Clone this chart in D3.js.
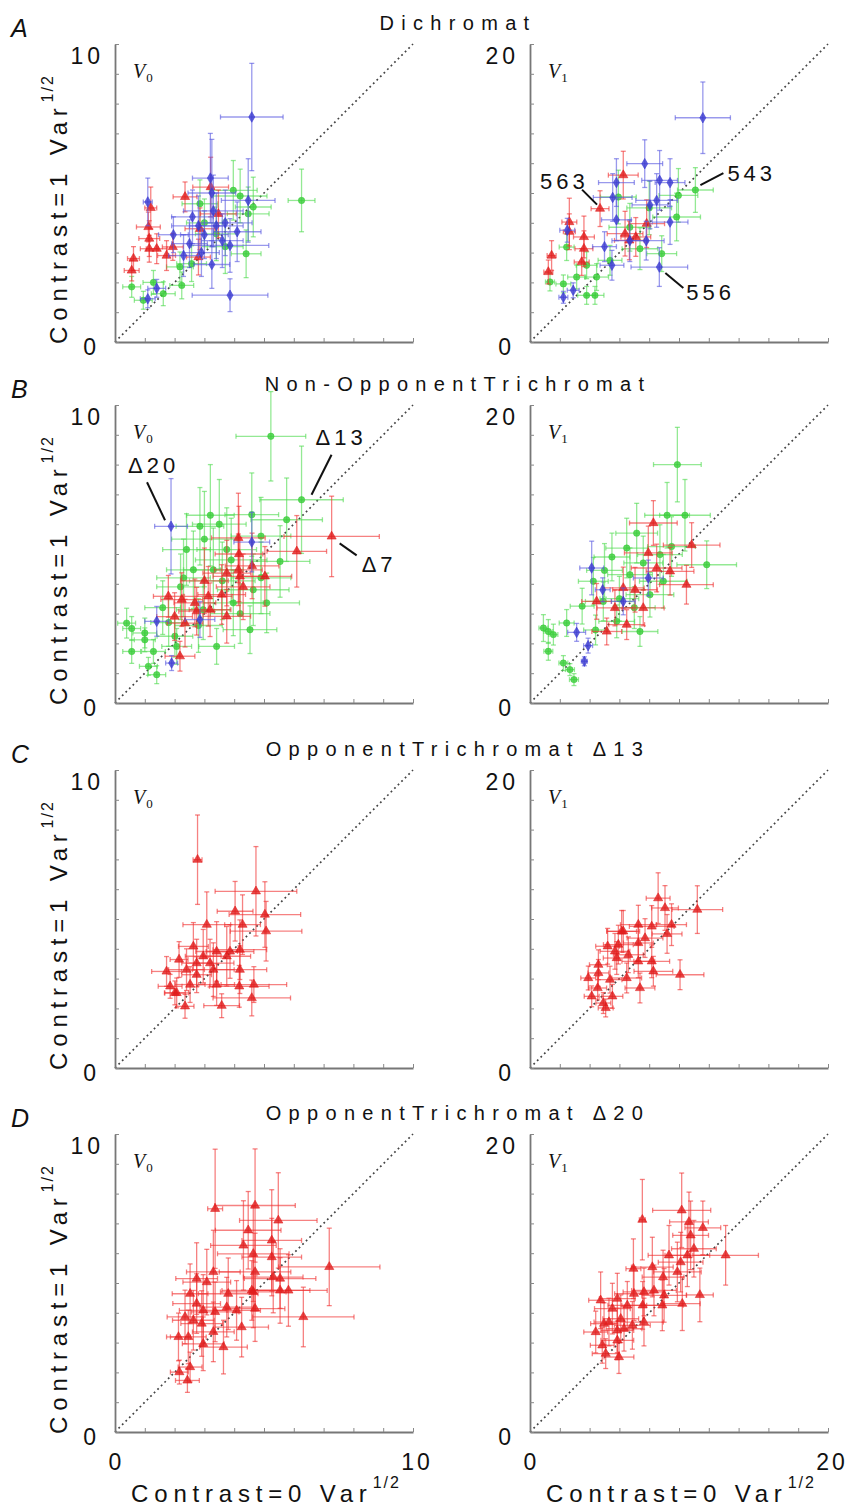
<!DOCTYPE html>
<html>
<head>
<meta charset="utf-8">
<script src="https://cdn.jsdelivr.net/npm/d3@7"></script>
<style>
body { margin:0; background:#fff; }
svg text { font-family: "Liberation Sans", Arial, Helvetica, sans-serif; fill:#111; }
</style>
</head>
<body>
<svg id="fig" width="863" height="1508"></svg>
<script>
// each point: [x, y, xerr, yerr]
var dichV0Red = [[0.62,2.8,0.2,0.4],[0.56,2.4,0.25,0.35],[1.12,3.86,0.4,0.5],[1.15,3.47,0.35,0.6],[1.15,3.13,0.3,0.45],
  [1.4,3.13,0.35,0.5],[1.73,2.9,0.3,0.5],[1.94,3.19,0.35,0.45],[2.35,4.87,0.4,0.5],[2.85,3.8,0.5,0.7],
  [3.21,5.2,0.6,1.0],[3.47,4.3,0.6,0.8],[2.8,2.85,0.4,0.6],[1.2,4.5,0.2,0.7]];
var dichV0Green = [[6.26,4.75,0.45,1.05],[0.56,1.85,0.3,0.35],[1.62,1.62,0.4,0.4],[1.29,2.0,0.35,0.4],[2.18,2.52,0.45,0.5],
  [2.24,1.9,0.4,0.45],[2.57,2.63,0.5,0.6],[2.85,4.64,0.6,0.8],[3.97,5.09,0.8,1.0],[4.47,4.3,0.7,0.9],
  [4.64,4.53,0.6,1.0],[4.4,2.96,0.5,0.8],[3.4,3.63,0.7,0.9],[0.95,1.4,0.3,0.3],[3.0,4.0,0.6,0.8],
  [3.7,3.2,0.6,0.9],[4.2,4.9,0.9,0.9]];
var dichV0Blue = [[4.59,7.55,1.05,1.8],[3.86,1.57,1.27,0.55],[1.1,4.7,0.15,0.8],[3.2,5.5,0.6,1.5],[4.47,4.75,0.9,1.4],
  [3.86,3.24,1.3,0.9],[1.4,1.8,0.3,0.3],[1.1,1.45,0.25,0.3],[1.96,3.6,0.5,0.6],[2.6,4.2,0.7,0.9],
  [3.0,3.6,0.8,0.8],[3.4,3.9,0.9,1.1],[3.6,3.4,0.7,0.9],[2.9,3.0,0.6,0.8],[4.1,3.7,0.8,1.0],
  [3.3,4.4,1.0,1.2],[2.5,3.3,0.6,0.8],[2.8,3.9,0.9,1.0],[3.7,4.0,0.9,1.1],[2.3,2.9,0.5,0.7],
  [3.25,2.6,0.6,0.8],[3.25,5.0,0.8,1.8]];

var dichV1Red = [[6.26,11.2,1.0,1.6],[4.7,8.95,0.6,1.2],[2.64,8.05,0.5,1.6],[2.64,7.4,0.4,1.2],[1.45,5.8,0.3,1.0],
  [1.23,4.7,0.3,0.8],[3.62,7.05,0.7,1.4],[3.62,6.26,0.6,1.2],[3.47,5.37,0.5,0.9],[6.38,7.27,1.2,1.5],
  [6.67,6.82,1.0,1.3],[7.83,7.94,1.2,1.6],[7.1,7.05,1.0,1.3]];
var dichV1Green = [[11.1,10.2,1.2,1.5],[1.34,4.03,0.3,0.6],[2.24,3.9,0.5,0.6],[3.13,4.36,0.6,0.8],[4.36,3.13,0.6,0.6],
  [3.8,3.13,0.6,0.6],[5.37,5.48,0.8,1.0],[3.8,5.15,0.7,0.9],[5.93,9.73,1.2,1.8],[8.84,5.93,1.0,1.2],
  [9.84,8.39,1.6,1.6],[9.96,9.84,1.3,1.8],[7.38,6.26,1.2,1.4],[6.7,7.7,1.4,1.6],[2.46,6.37,0.5,0.9],
  [4.47,4.36,0.8,0.9],[8.0,9.0,1.5,1.8]];
var dichV1Blue = [[11.6,15.05,1.85,2.4],[8.68,5.03,1.9,1.3],[7.7,11.97,1.2,1.6],[5.8,10.7,1.2,1.6],[5.55,9.7,1.3,1.6],
  [8.7,10.85,1.2,2.0],[9.4,10.7,1.0,1.6],[5.8,8.2,1.0,1.4],[9.4,8.05,1.2,1.5],[7.8,6.8,1.2,1.3],
  [5.5,5.15,0.8,1.0],[2.24,3.0,0.3,0.4],[2.9,3.47,0.4,0.5],[5.0,6.4,0.8,1.0],[6.7,6.8,1.2,1.4],
  [8.5,9.5,1.4,1.8],[8.05,9.2,1.2,1.6],[2.5,7.5,0.5,0.8]];

var nonoppV0Red = [[7.27,5.59,1.6,1.35],[6.1,5.09,1.0,1.2],[4.14,5.54,0.9,1.5],[4.14,4.47,0.8,1.2],[4.19,4.25,0.9,1.3],
  [3.75,4.36,0.8,1.1],[5.03,4.25,0.9,1.0],[2.18,1.57,0.5,0.5],[1.79,3.58,0.5,0.7],[2.24,3.47,0.7,0.9],
  [2.68,3.36,0.7,0.8],[3.13,3.58,0.8,1.0],[3.58,3.64,0.8,1.0],[2.74,3.08,0.6,0.8],[3.19,3.13,0.7,0.9],
  [3.75,2.91,0.8,0.9],[2.35,2.68,0.6,0.8],[4.16,5.0,0.8,1.6],[4.3,3.9,0.9,1.1],[3.0,4.1,0.8,1.1],
  [2.0,2.9,0.6,0.8],[4.6,4.6,0.9,1.1]];
var nonoppV0Green = [[5.23,8.95,1.17,1.5],[6.26,6.82,1.4,1.8],[5.76,6.15,1.2,1.4],[4.59,6.32,0.9,1.4],[2.85,5.93,0.8,1.3],
  [0.39,2.68,0.3,0.5],[0.56,2.5,0.3,0.4],[1.0,2.35,0.4,0.5],[1.0,2.12,0.35,0.4],[0.56,1.73,0.3,0.4],
  [1.29,1.73,0.4,0.4],[1.12,1.23,0.3,0.3],[1.4,0.95,0.3,0.3],[2.07,1.9,0.5,0.6],[3.41,1.9,0.6,0.6],
  [5.54,4.75,1.0,1.2],[3.3,4.47,1.0,1.4],[2.63,4.47,0.9,1.3],[4.64,3.8,1.2,1.2],[2.96,3.13,0.9,1.0],
  [3.97,3.36,1.0,1.1],[2.4,5.15,0.8,1.2],[3.75,5.15,1.0,1.4],[5.09,3.36,1.1,1.0],[4.53,2.46,0.9,0.8],
  [2.01,2.24,0.6,0.7],[3.5,6.0,0.9,1.5],[4.9,5.6,1.0,1.3],[2.2,3.9,0.8,1.1],[2.3,4.2,0.9,1.3],
  [3.0,5.5,1.1,1.6],[3.9,4.8,1.2,1.4],[4.2,3.0,1.0,1.0],[1.6,3.2,0.6,0.9],[2.8,2.6,0.8,0.9],
  [3.6,4.1,1.1,1.3],[4.9,4.2,1.0,1.2],[1.8,2.7,0.6,0.8],[3.2,6.3,0.8,1.7]];
var nonoppV0Blue = [[1.88,5.93,0.55,1.6],[1.4,2.74,0.4,0.5],[1.9,1.34,0.2,0.25],[2.85,2.8,0.5,0.6],[4.59,5.4,0.6,1.0]];

var nonoppV1Red = [[8.28,12.08,1.6,1.5],[10.85,10.6,1.9,1.5],[10.5,7.94,1.8,1.3],[8.5,9.06,1.7,1.6],[7.94,10.07,1.6,1.8],
  [6.26,7.72,1.4,1.4],[7.05,7.6,1.5,1.5],[4.47,6.82,1.0,1.2],[5.7,6.38,1.2,1.2],[6.49,5.26,1.2,1.0],
  [5.15,4.8,1.0,0.9],[7.6,6.38,1.4,1.2],[9.4,8.84,1.6,1.6]];
var nonoppV1Green = [[9.89,16.0,1.6,2.5],[9.2,12.6,1.5,2.2],[10.4,12.6,1.7,2.4],[7.16,11.4,1.4,2.0],[11.86,9.28,2.0,1.6],
  [0.9,5.03,0.3,0.9],[1.23,4.8,0.3,0.8],[1.57,4.59,0.3,0.7],[1.23,3.47,0.3,0.6],[2.24,2.68,0.3,0.5],
  [2.68,2.24,0.3,0.4],[2.95,1.57,0.3,0.4],[2.46,5.37,0.5,0.9],[4.25,8.17,1.0,1.6],[6.49,10.4,1.4,2.0],
  [7.38,4.8,1.2,1.0],[8.95,8.17,1.6,1.8],[5.82,5.48,1.2,1.1],[8.05,7.27,1.6,1.5],[4.92,6.82,1.2,1.3],
  [8.72,9.96,1.5,2.0],[6.71,8.61,1.5,1.8],[4.4,4.9,0.8,1.0],[7.6,9.4,1.3,1.8],[5.5,9.8,1.2,1.6],
  [5.0,8.9,1.2,1.8],[6.0,7.0,1.3,1.5],[7.0,6.4,1.4,1.4],[9.5,10.5,1.6,2.0],[3.5,6.5,0.8,1.2]];
var nonoppV1Blue = [[4.14,9.06,0.8,1.8],[4.88,7.6,0.5,0.8],[3.13,4.74,0.6,0.6],[3.9,3.85,0.3,0.5],[3.65,2.8,0.2,0.3],
  [6.26,6.82,0.8,0.9],[7.94,8.39,1.0,1.2]];

var opp13V0Red = [[2.77,6.99,0.15,1.5],[4.73,5.93,1.37,1.5],[4.03,5.26,0.6,1.0],[5.03,5.15,1.2,1.1],[5.07,4.59,1.2,1.0],
  [3.08,4.81,0.8,1.1],[4.28,4.81,0.6,1.0],[2.63,4.08,0.5,0.8],[3.41,3.91,0.7,1.0],[3.86,3.91,0.8,0.9],
  [4.19,3.97,0.9,1.0],[2.15,3.64,0.3,0.6],[1.73,3.24,0.5,0.5],[2.4,3.3,0.6,0.7],[2.74,3.13,0.5,0.6],
  [3.19,3.52,0.8,0.8],[4.19,3.3,0.9,0.8],[1.85,2.74,0.4,0.4],[2.01,2.52,0.35,0.4],[2.35,2.07,0.3,0.4],
  [2.52,2.8,0.5,0.6],[3.41,2.8,0.6,0.7],[4.17,2.74,1.0,0.7],[4.66,2.8,1.1,0.6],[3.58,2.09,0.6,0.4],
  [4.59,2.35,1.3,0.6],[2.74,3.52,0.5,0.8],[2.96,3.75,0.6,0.9],[3.75,3.75,0.8,1.0],[2.07,2.52,0.4,0.5],
  [3.3,3.3,0.7,0.9]];
var opp13V1Red = [[11.23,10.63,1.7,1.6],[10.07,6.26,1.6,1.0],[8.6,11.4,0.8,1.7],[9.06,10.74,0.9,1.5],[9.5,9.62,1.0,1.4],
  [9.2,9.0,1.0,1.3],[8.17,9.5,1.5,1.4],[7.27,9.62,1.2,1.3],[6.15,9.17,1.0,1.4],[7.72,8.72,1.2,1.3],
  [7.27,8.39,1.0,1.2],[5.21,8.17,0.8,1.2],[5.7,7.83,1.0,1.2],[5.82,7.38,0.9,1.1],[6.6,7.6,1.0,1.2],
  [7.27,7.16,1.1,1.1],[8.17,7.16,1.2,1.1],[8.28,6.49,1.3,1.0],[4.59,6.93,0.6,1.0],[4.59,6.38,0.7,0.9],
  [3.91,6.04,0.5,0.8],[5.37,5.93,0.8,0.9],[6.49,6.04,1.0,1.0],[7.38,5.37,1.0,1.0],[4.54,5.37,0.6,0.8],
  [4.14,4.81,0.5,0.7],[5.53,4.81,0.7,0.8],[4.92,4.36,0.5,0.7],[5.08,4.03,0.5,0.6],[5.93,8.28,1.0,1.3],
  [6.26,9.17,1.1,1.4]];

var opp20V0Red = [[7.19,5.54,1.7,1.3],[6.32,3.86,1.7,1.0],[4.7,7.6,1.35,1.9],[3.36,7.49,0.25,2.0],[5.48,7.1,1.3,1.6],
  [4.47,6.77,1.1,1.3],[5.26,6.43,1.0,1.7],[4.31,6.26,1.1,1.5],[4.64,5.98,1.2,1.6],[5.26,5.87,1.0,1.3],
  [4.7,5.37,1.2,1.3],[5.31,5.2,1.0,1.2],[5.54,5.15,1.2,1.0],[5.82,4.75,1.3,1.2],[5.54,4.75,1.0,1.1],
  [4.64,4.7,1.1,1.2],[2.74,5.15,0.7,1.2],[3.3,5.37,0.9,1.4],[3.08,5.03,0.8,1.1],[2.52,4.64,0.6,1.0],
  [3.8,4.64,1.0,1.2],[2.35,3.86,0.6,0.9],[2.96,4.08,0.8,1.2],[3.36,4.03,0.8,1.0],[2.63,3.75,0.7,1.0],
  [2.91,3.64,0.7,1.1],[3.75,4.19,0.9,1.0],[4.08,4.08,0.8,1.0],[4.25,3.52,0.9,1.0],[2.13,3.19,0.4,0.8],
  [2.46,3.19,0.6,0.9],[2.96,2.96,0.7,0.9],[3.64,2.85,0.8,0.9],[3.3,3.36,0.7,1.0],[2.52,2.18,0.4,0.5],
  [2.16,2.01,0.3,0.4],[2.43,1.73,0.4,0.4],[4.7,4.14,1.0,1.1],[2.74,4.31,0.8,1.0],[4.59,4.75,1.0,1.0]];
var opp20V1Red = [[13.13,11.86,2.2,2.0],[11.4,9.2,0.9,1.8],[10.18,14.88,1.95,2.5],[7.54,14.25,0.2,2.7],[11.6,13.7,1.2,1.8],
  [10.67,14.1,1.3,2.0],[10.78,13.2,1.2,2.3],[11.0,12.3,1.5,1.9],[10.56,11.86,1.5,2.1],[10.11,11.4,1.5,2.0],
  [9.33,11.86,1.4,2.0],[9.89,10.74,1.6,2.0],[10.22,8.61,1.2,1.8],[6.94,10.96,0.5,2.0],[8.21,11.07,1.4,2.0],
  [8.93,10.4,1.4,1.8],[7.65,9.4,1.4,1.6],[8.32,9.5,1.5,1.7],[9.0,9.17,1.5,1.8],[7.56,8.5,1.4,1.6],
  [6.98,9.28,1.3,1.8],[6.53,8.5,1.3,1.6],[5.53,8.28,1.2,1.7],[4.74,8.84,0.8,1.9],[5.3,7.38,1.0,1.6],
  [6.09,7.6,1.2,1.6],[4.97,7.27,0.9,1.4],[4.41,6.71,0.8,1.4],[5.86,6.82,1.1,1.5],[6.87,7.16,1.2,1.6],
  [7.65,7.38,1.3,1.6],[4.85,5.82,0.8,1.2],[5.86,6.15,1.1,1.3],[5.08,5.26,0.9,1.0],[5.97,5.03,1.0,1.1],
  [6.31,6.93,1.2,1.5],[8.88,8.5,1.4,1.7],[5.86,8.95,1.2,1.7]];

var panelTitles = ["Dichromat", "Non-OpponentTrichromat", "OpponentTrichromat \u039413", "OpponentTrichromat \u039420"];
var rowLetters = ["A", "B", "C", "D"];
var axisMax = [10, 20];
var tickLabelsV0 = ["0", "10"];
var tickLabelsV1 = ["0", "20"];
var panelNames = [["V", "0"], ["V", "1"]];
var yAxisTitle = ["Contrast=1 Var", "1/2"];
var xAxisTitle = ["Contrast=0 Var", "1/2"];

// annotations: text, panel (row,col), target point
var notes = [
  {text:"563", row:0, col:1, pt:dichV1Red[1], line:[-18,-19,-3,-4], tx:-60, ty:-20},
  {text:"543", row:0, col:1, pt:dichV1Green[0], line:[5,-5,28,-17], tx:32, ty:-9},
  {text:"556", row:0, col:1, pt:dichV1Blue[1], line:[6,6,24,21], tx:27, ty:33},
  {text:"\u039420", row:1, col:0, pt:nonoppV0Blue[0], line:[-24,-44,-6,-6], tx:-43, ty:-53},
  {text:"\u039413", row:1, col:0, pt:nonoppV0Green[1], line:[30,-45,10,-5], tx:14, ty:-55},
  {text:"\u03947", row:1, col:0, pt:nonoppV0Red[0], line:[8,7,25,19], tx:30, ty:36}
];

var colors = {
  red:   {bar:"#f03434", mark:"#e01c1c", shape:d3.symbolTriangle, size:36},
  green: {bar:"#52dc52", mark:"#38cc38", shape:d3.symbolCircle, size:32},
  blue:  {bar:"#5a5ae0", mark:"#3a3ad0", shape:d3.symbolDiamond, size:32}
};

var panels = [
  [ {green:dichV0Green, red:dichV0Red, blue:dichV0Blue}, {green:dichV1Green, red:dichV1Red, blue:dichV1Blue} ],
  [ {green:nonoppV0Green, red:nonoppV0Red, blue:nonoppV0Blue}, {green:nonoppV1Green, red:nonoppV1Red, blue:nonoppV1Blue} ],
  [ {red:opp13V0Red}, {red:opp13V1Red} ],
  [ {red:opp20V0Red}, {red:opp20V1Red} ]
];

var svg = d3.select("#fig");
var size = 298;
var colX = [115, 530];
var rowBottom = [342, 703, 1068, 1432];
var scales = {};

function drawPanel(row, col, series) {
  var max = axisMax[col];
  var x0 = colX[col], y0 = rowBottom[row];
  var x = d3.scaleLinear().domain([0, max]).range([x0, x0 + size]);
  var y = d3.scaleLinear().domain([0, max]).range([y0, y0 - size]);
  scales[row + "_" + col] = [x, y];
  var g = svg.append("g");

  // diagonal
  g.append("line")
    .attr("x1", x(0)).attr("y1", y(0)).attr("x2", x(max)).attr("y2", y(max))
    .attr("stroke", "#444").attr("stroke-width", 1.7).attr("stroke-dasharray", "1.8,3.2");

  ["green", "red", "blue"].forEach(function(k) {
    if (!series[k]) return;
    var c = colors[k];
    var sg = g.append("g");
    var bars = sg.append("g").attr("stroke", c.bar).attr("stroke-width", 1.3).attr("stroke-opacity", 0.62);
    series[k].forEach(function(d) {
      var px = x(d[0]), py = y(d[1]);
      var xl = x(d[0] - d[2]), xr = x(d[0] + d[2]);
      var yt = y(d[1] + d[3]), yb = y(d[1] - d[3]);
      bars.append("line").attr("x1", xl).attr("x2", xr).attr("y1", py).attr("y2", py);
      bars.append("line").attr("x1", px).attr("x2", px).attr("y1", yt).attr("y2", yb);
      bars.append("line").attr("x1", xl).attr("x2", xl).attr("y1", py - 2.5).attr("y2", py + 2.5);
      bars.append("line").attr("x1", xr).attr("x2", xr).attr("y1", py - 2.5).attr("y2", py + 2.5);
      bars.append("line").attr("x1", px - 2.5).attr("x2", px + 2.5).attr("y1", yt).attr("y2", yt);
      bars.append("line").attr("x1", px - 2.5).attr("x2", px + 2.5).attr("y1", yb).attr("y2", yb);
    });
    sg.selectAll("path.mk")
      .data(series[k])
      .enter().append("path")
      .attr("class", "mk")
      .attr("d", d3.symbol().type(c.shape).size(c.size))
      .attr("transform", function(d) { return "translate(" + x(d[0]) + "," + y(d[1]) + ")"; })
      .attr("fill", c.mark).attr("fill-opacity", 0.8)
      .attr("stroke", c.mark).attr("stroke-opacity", 0.7).attr("stroke-width", 0.8);
  });

  // axes, ticks pointing inward
  var ticks = d3.range(0, max + 0.001, max / 10);
  var ax = g.append("g").attr("transform", "translate(0," + y0 + ")")
    .call(d3.axisBottom(x).tickValues(ticks).tickSizeInner(-4).tickSizeOuter(0).tickFormat(""));
  var ay = g.append("g").attr("transform", "translate(" + x0 + ",0)")
    .call(d3.axisLeft(y).tickValues(ticks).tickSizeInner(-4).tickSizeOuter(0).tickFormat(""));
  [ax, ay].forEach(function(a) {
    a.select(".domain").attr("stroke", "#777").attr("stroke-width", 1.8);
    a.selectAll(".tick line").attr("stroke", "#888").attr("stroke-width", 1);
  });

  var labels = col === 0 ? tickLabelsV0 : tickLabelsV1;
  g.append("text").attr("x", x0 - 15).attr("y", y(0) + 13)
    .attr("text-anchor", "end").style("font-size", "23px").style("letter-spacing", "4px").text(labels[0]);
  g.append("text").attr("x", x0 - 11).attr("y", y(max) + 20)
    .attr("text-anchor", "end").style("font-size", "23px").style("letter-spacing", "4px").text(labels[1]);

  if (row === 3) {
    g.append("text").attr("x", x(0)).attr("y", y0 + 38)
      .attr("text-anchor", "middle").style("font-size", "23px").text(labels[0]);
    g.append("text").attr("x", x(max) + 4).attr("y", y0 + 38)
      .attr("text-anchor", "middle").style("font-size", "23px").style("letter-spacing", "3px").text(labels[1]);
    var xt = g.append("text").attr("x", x(max / 2) + 2).attr("y", y0 + 70)
      .attr("text-anchor", "middle").style("font-size", "24px").style("letter-spacing", "5.8px");
    xt.append("tspan").text(xAxisTitle[0]);
    xt.append("tspan").attr("dy", -14).style("font-size", "16px").style("letter-spacing", "2px").text(xAxisTitle[1]);
  }

  if (col === 0) {
    var yt = g.append("text")
      .attr("transform", "translate(67," + (y(max / 2) + 16) + ") rotate(-90)")
      .attr("text-anchor", "middle").style("font-size", "24px").style("letter-spacing", "5.8px");
    yt.append("tspan").text(yAxisTitle[0]);
    yt.append("tspan").attr("dy", -14).style("font-size", "16px").style("letter-spacing", "2px").text(yAxisTitle[1]);
  }

  // V0 / V1 label
  var vl = g.append("text").attr("x", x0 + 18).attr("y", y(max) + 34)
    .style("font-family", "'Liberation Serif', 'DejaVu Serif', serif").style("font-style", "italic").style("font-size", "20px");
  vl.append("tspan").text(panelNames[col][0]);
  vl.append("tspan").attr("dy", 4).attr("dx", 1).style("font-style", "normal").style("font-size", "13px").text(panelNames[col][1]);
}

for (var r = 0; r < 4; r++) {
  for (var c = 0; c < 2; c++) drawPanel(r, c, panels[r][c]);
  svg.append("text").attr("x", 458).attr("y", rowBottom[r] - 312)
    .attr("text-anchor", "middle").style("font-size", "20px").style("letter-spacing", "7.3px").text(panelTitles[r]);
  svg.append("text").attr("x", 11).attr("y", rowBottom[r] - 305)
    .style("font-size", "25px").style("font-style", "italic").text(rowLetters[r]);
}

notes.forEach(function(n) {
  var s = scales[n.row + "_" + n.col];
  var px = s[0](n.pt[0]), py = s[1](n.pt[1]);
  svg.append("line")
    .attr("x1", px + n.line[0]).attr("y1", py + n.line[1])
    .attr("x2", px + n.line[2]).attr("y2", py + n.line[3])
    .attr("stroke", "#111").attr("stroke-width", 2);
  svg.append("text").attr("x", px + n.tx).attr("y", py + n.ty)
    .style("font-size", "22px").style("letter-spacing", "4px").text(n.text);
});
</script>
</body>
</html>
